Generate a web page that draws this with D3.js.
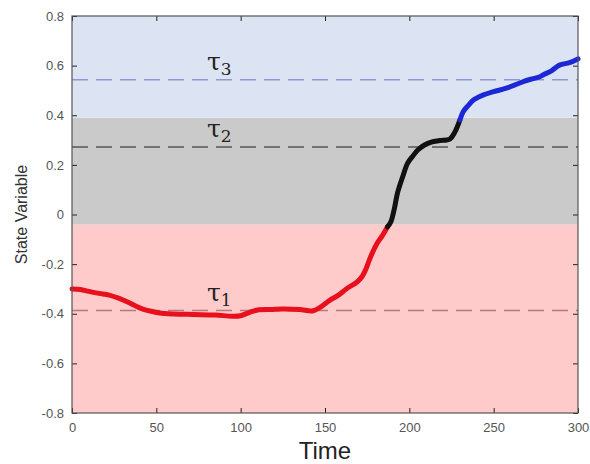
<!DOCTYPE html>
<html>
<head>
<meta charset="utf-8">
<script src="https://cdn.jsdelivr.net/npm/d3@7"></script>
<style>
  body { margin: 0; background: #fff; }
  svg { display: block; }
</style>
</head>
<body>
<svg id="chart" width="590" height="464"></svg>
<script>
// DATA
const timeVals = [0, 5, 10, 16, 22, 28, 33, 38, 42, 47, 52, 60, 72, 85, 95, 100, 105, 110, 118, 125,
  135, 143, 148, 153, 158, 163, 169, 172, 174, 177, 181, 184, 187, 189, 191, 193, 196, 199, 202, 205,
  209, 213, 218, 224, 227, 230, 232, 235, 238, 244, 250, 258, 267, 272, 277, 280, 284, 289, 295, 300];
const stateVals = [-0.300, -0.302, -0.310, -0.318, -0.325, -0.338, -0.353, -0.370, -0.381, -0.390,
  -0.397, -0.401, -0.403, -0.405, -0.410, -0.408, -0.395, -0.385, -0.383, -0.381,
  -0.383, -0.388, -0.370, -0.345, -0.325, -0.298, -0.272, -0.250, -0.224, -0.171,
  -0.115, -0.085, -0.050, -0.030, 0.020, 0.087, 0.151, 0.207, 0.235, 0.260,
  0.280, 0.292, 0.298, 0.304, 0.332, 0.381, 0.415, 0.440, 0.461, 0.482,
  0.495, 0.510, 0.534, 0.545, 0.554, 0.565, 0.578, 0.602, 0.612, 0.627];

// bands: [lower, upper]
const bandLimits = [[-0.8, -0.04], [-0.04, 0.39], [0.39, 0.8]];
const bandColors = ["#ffcaca", "#cacaca", "#dce3f3"];
const lineColors = ["#e8101c", "#111111", "#1c28d6"];
const tauLevels = [-0.387, 0.272, 0.543];
const tauColors = ["#b57a7a", "#555555", "#8c9ad4"];
const tauNames = ["1", "2", "3"];
const tauLabelT = [80, 80, 80];

const xTicks = [0, 50, 100, 150, 200, 250, 300];
const yTicks = [-0.8, -0.6, -0.4, -0.2, 0, 0.2, 0.4, 0.6, 0.8];

// LAYOUT
const margin = { left: 72, right: 12, top: 16, bottom: 51 };
const W = 590, H = 464;
const svg = d3.select("#chart");

const x = d3.scaleLinear().domain([0, 300]).range([margin.left, W - margin.right]);
const y = d3.scaleLinear().domain([-0.8, 0.8]).range([H - margin.bottom, margin.top]);

// BANDS
svg.append("g").selectAll("rect")
  .data(bandLimits)
  .join("rect")
  .attr("x", x(0))
  .attr("width", x(300) - x(0))
  .attr("y", d => y(d[1]))
  .attr("height", d => y(d[0]) - y(d[1]))
  .attr("fill", (d, i) => bandColors[i]);

// THRESHOLD LINES
svg.append("g").selectAll("line")
  .data(tauLevels)
  .join("line")
  .attr("x1", x(0)).attr("x2", x(300))
  .attr("y1", d => y(d)).attr("y2", d => y(d))
  .attr("stroke", (d, i) => tauColors[i])
  .attr("stroke-width", 1.4)
  .attr("stroke-dasharray", "16,8");

const tauText = svg.append("g").selectAll("text")
  .data(tauLevels)
  .join("text")
  .attr("x", (d, i) => x(tauLabelT[i]))
  .attr("y", d => y(d) - 10)
  .attr("font-family", "DejaVu Serif, serif")
  .attr("font-size", 25)
  .attr("fill", "#222");
tauText.append("tspan").text("τ");
tauText.append("tspan")
  .attr("font-size", 17)
  .attr("dy", 5)
  .text((d, i) => tauNames[i]);

// CURVE, coloured by band
const pts = timeVals.map((t, i) => ({ t, v: stateVals[i] }));
const bandOf = v => bandLimits.findIndex(b => v >= b[0] && v < b[1]);
const segments = [];
pts.forEach((p, i) => {
  const b = bandOf(p.v);
  if (!segments.length || segments[segments.length - 1].band !== b) {
    const seg = { band: b, pts: [] };
    if (i > 0) seg.pts.push(pts[i - 1]);
    segments.push(seg);
  }
  segments[segments.length - 1].pts.push(p);
});

const line = d3.line().x(d => x(d.t)).y(d => y(d.v)).curve(d3.curveCatmullRom);
svg.append("g").selectAll("path")
  .data(segments)
  .join("path")
  .attr("d", d => line(d.pts))
  .attr("fill", "none")
  .attr("stroke", d => lineColors[d.band])
  .attr("stroke-width", 5)
  .attr("stroke-linecap", "round")
  .attr("stroke-linejoin", "round");

// AXES (box with inward ticks)
const tickStyle = g => {
  g.select(".domain").remove();
  g.selectAll(".tick line").attr("stroke", "#222");
  g.selectAll(".tick text")
    .attr("font-family", "Liberation Sans, Arial, sans-serif")
    .attr("font-size", 13)
    .attr("fill", "#555");
};

svg.append("g")
  .attr("transform", `translate(0,${y(-0.8)})`)
  .call(d3.axisBottom(x).tickValues(xTicks).tickSizeInner(-5).tickPadding(10).tickFormat(d3.format("d")))
  .call(tickStyle);

svg.append("g")
  .attr("transform", `translate(0,${y(0.8)})`)
  .call(d3.axisTop(x).tickValues(xTicks).tickSizeInner(-5).tickFormat(""))
  .call(tickStyle);

const yFmt = d => d === 0 ? "0" : d.toFixed(1);
svg.append("g")
  .attr("transform", `translate(${x(0)},0)`)
  .call(d3.axisLeft(y).tickValues(yTicks).tickSizeInner(-5).tickPadding(8).tickFormat(yFmt))
  .call(tickStyle);

svg.append("g")
  .attr("transform", `translate(${x(300)},0)`)
  .call(d3.axisRight(y).tickValues(yTicks).tickSizeInner(-5).tickFormat(""))
  .call(tickStyle);

svg.append("rect")
  .attr("x", x(0)).attr("y", y(0.8))
  .attr("width", x(300) - x(0)).attr("height", y(-0.8) - y(0.8))
  .attr("fill", "none")
  .attr("stroke", "#555")
  .attr("stroke-width", 1.2);

// LABELS
svg.append("text")
  .attr("x", (x(0) + x(300)) / 2)
  .attr("y", 459)
  .attr("text-anchor", "middle")
  .attr("font-family", "Liberation Sans, Arial, sans-serif")
  .attr("font-size", 24)
  .attr("fill", "#222")
  .text("Time");

svg.append("text")
  .attr("transform", `translate(27,${(y(0.8) + y(-0.8)) / 2}) rotate(-90)`)
  .attr("text-anchor", "middle")
  .attr("font-family", "Liberation Sans, Arial, sans-serif")
  .attr("font-size", 16)
  .attr("fill", "#333")
  .text("State Variable");
</script>
</body>
</html>
